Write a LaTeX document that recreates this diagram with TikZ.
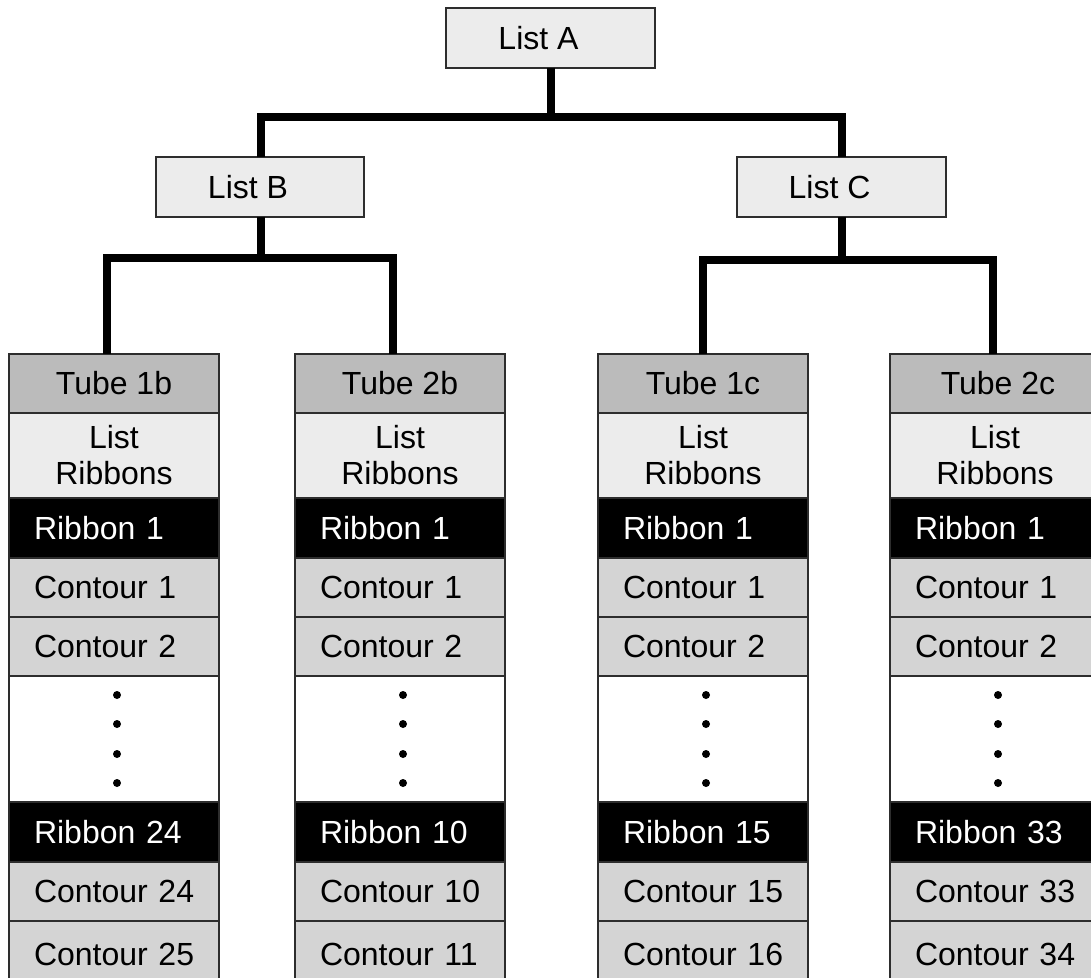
\documentclass[tikz,border=0pt]{standalone}
\usepackage{fontspec}
\setmainfont{Liberation Sans}

\definecolor{edgegray}{RGB}{45,45,45}
\definecolor{hdrgray}{RGB}{187,187,187}
\definecolor{palegray}{RGB}{236,236,236}
\definecolor{rowgray}{RGB}{212,212,212}

\tikzset{
  cell/.style={draw=edgegray, line width=1.3pt, minimum width=210pt,
    inner sep=0pt, outer sep=0pt, anchor=north west,
    font=\fontsize{32}{36}\selectfont},
  hdrcell/.style={cell, fill=hdrgray, minimum height=59pt, align=center},
  lstcell/.style={cell, fill=palegray, minimum height=85pt, align=center},
  ribcell/.style={cell, fill=black, text=white, minimum height=60pt,
    text width=160pt, align=left},
  concell/.style={cell, fill=rowgray, minimum height=59pt,
    text width=160pt, align=left},
  lastcell/.style={concell, minimum height=66pt},
  gapcell/.style={cell, fill=white, minimum height=126pt},
  listbox/.style={draw=edgegray, line width=1.3pt, fill=palegray,
    minimum height=60pt, inner sep=0pt, outer sep=0pt,
    font=\fontsize{32}{36}\selectfont},
  conn/.style={line width=8pt, line join=miter, line cap=butt, draw=black},
  dotmark/.style={fill=black},
}

% one tube column: name, left edge, title, number of the last ribbon shown
\newcommand\tubecol[4]{%
  \node[hdrcell]  (#1-hdr) at (#2,354) {#3};
  \node[lstcell]  (#1-lst) at (#2,413) {List\\Ribbons};
  \node[ribcell]  (#1-r1)  at (#2,498) {\mbox{Ribbon 1}};
  \node[concell]  (#1-c1)  at (#2,558) {\mbox{Contour 1}};
  \node[concell]  (#1-c2)  at (#2,617) {\mbox{Contour 2}};
  \node[gapcell]  (#1-gap) at (#2,676) {};
  \foreach \dy in {19,48,78,107}
    \fill[dotmark] ([xshift=3pt]#1-gap.north) ++(0,\dy) circle (4pt);
  \node[ribcell]  (#1-rn)  at (#2,802) {\mbox{Ribbon #4}};
  \node[concell]  (#1-cn)  at (#2,862) {\mbox{Contour #4}};
  \node[lastcell] (#1-cm)  at (#2,921) {\mbox{Contour \the\numexpr#4+1\relax}};
}

\begin{document}
\begin{tikzpicture}[x=1pt, y=-1pt]
  \useasboundingbox (0,0) rectangle (1091,977);
  \clip (0,0) rectangle (1091,977);

  % list boxes
  \node[listbox, minimum width=209pt] (A) at (550.5,38) {List A\kern24pt};
  \node[listbox, minimum width=208pt] (B) at (260,187) {List B\kern24pt};
  \node[listbox, minimum width=209pt] (C) at (841.5,187) {List C\kern24pt};

  % tube columns
  \tubecol{t1b}{9}{Tube 1b}{24}
  \tubecol{t2b}{295}{Tube 2b}{10}
  \tubecol{t1c}{598}{Tube 1c}{15}
  \tubecol{t2c}{890}{\kern6pt Tube 2c}{33}

  % bus lines
  \coordinate (busA) at (551,116.5);
  \coordinate (busB) at (261,258);
  \coordinate (busC) at (842,260);

  \draw[conn] (A.south) -- (A.south |- busA);
  \draw[conn] ([xshift=1pt]B.north) |- (busA) -| ([xshift=0.5pt]C.north);

  \draw[conn] ([xshift=1pt]B.south) -- (busB);
  \draw[conn] ([xshift=-7pt]t1b-hdr.north) |- (busB) -| ([xshift=-7pt]t2b-hdr.north);

  \draw[conn] ([xshift=0.5pt]C.south) -- (busC);
  \draw[conn] (t1c-hdr.north) |- (busC) -| ([xshift=-2pt]t2c-hdr.north);
\end{tikzpicture}
\end{document}
